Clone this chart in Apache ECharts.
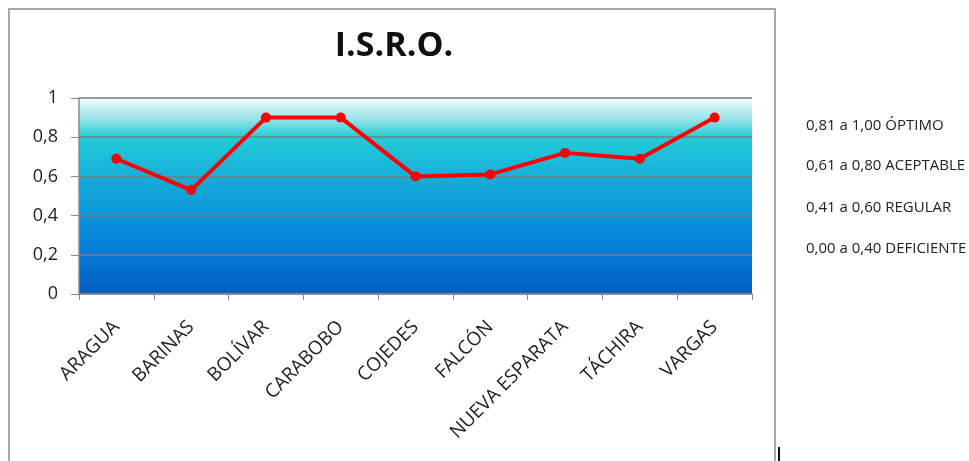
<!DOCTYPE html>
<html>
<head>
<meta charset="utf-8">
<script src="https://cdn.jsdelivr.net/npm/echarts@6/dist/echarts.min.js"></script>
<style>
  * { margin: 0; padding: 0; }
  body { background: #fff; }
</style>
</head>
<body>
<div id="main" style="width: 969px;height: 461px;"></div>
<script>
  var estados = ['ARAGUA', 'BARINAS', 'BOLÍVAR', 'CARABOBO', 'COJEDES', 'FALCÓN', 'NUEVA ESPARATA', 'TÁCHIRA', 'VARGAS'];
  var isro = [0.69, 0.53, 0.90, 0.90, 0.60, 0.61, 0.72, 0.69, 0.90];
  var rangos = ['0,81 a 1,00 ÓPTIMO', '0,61 a 0,80 ACEPTABLE', '0,41 a 0,60 REGULAR', '0,00 a 0,40 DEFICIENTE'];

  var myChart = echarts.init(document.getElementById('main'));

  // textos de rangos a la derecha
  var rangoTextos = rangos.map(function (t, i) {
    return {
      type: 'text',
      left: 806,
      top: [118, 158, 200, 241][i],
      style: { text: t, font: '15px "Open Sans", sans-serif', fill: '#222' }
    };
  });

  var option = {
    backgroundColor: '#fff',
    title: {
      text: 'I.S.R.O.',
      left: 389,
      top: 24,
      textAlign: 'center',
      textStyle: { fontSize: 34, fontWeight: 'bold', color: '#111', fontFamily: 'Open Sans' }
    },
    graphic: [
      {   // marco del grafico
        type: 'rect',
        shape: { x: 9, y: 9, width: 766, height: 470 },
        style: { fill: 'transparent', stroke: '#a8a8a8', lineWidth: 2 },
        z: -1
      },
      {   // cursor
        type: 'rect',
        shape: { x: 778, y: 447, width: 2, height: 14 },
        style: { fill: '#111' }
      }
    ].concat(rangoTextos),
    grid: {
      left: 79,
      top: 98,
      right: 217,
      bottom: 167,
      show: true,
      borderWidth: 0,
      backgroundColor: new echarts.graphic.LinearGradient(0, 0, 0, 1, [
        { offset: 0, color: '#f2fbfc' },
        { offset: 0.1, color: '#9fe3ea' },
        { offset: 0.2, color: '#22cdd8' },
        { offset: 0.45, color: '#13a8d8' },
        { offset: 0.7, color: '#0888dc' },
        { offset: 1, color: '#005cc0' }
      ])
    },
    xAxis: {
      type: 'category',
      data: estados,
      boundaryGap: true,
      axisLine: { lineStyle: { color: '#8a8a8a', width: 1.5 } },
      axisTick: { show: true, alignWithLabel: false, length: 6, lineStyle: { color: '#8a8a8a' } },
      axisLabel: {
        rotate: 45,
        interval: 0,
        margin: 30,
        color: '#222',
        fontSize: 19,
        fontFamily: 'Open Sans'
      }
    },
    yAxis: {
      type: 'value',
      min: 0,
      max: 1,
      interval: 0.2,
      axisLine: { show: true, lineStyle: { color: '#8a8a8a', width: 1.5 } },
      axisTick: { show: true, length: 8, lineStyle: { color: '#8a8a8a' } },
      splitLine: { lineStyle: { color: '#7c7c7c', width: 1.5 } },
      axisLabel: {
        margin: 21,
        color: '#222',
        fontSize: 18,
        fontFamily: 'Open Sans',
        formatter: function (v) { return String(v).replace('.', ','); }
      }
    },
    series: [
      {
        name: 'I.S.R.O.',
        type: 'line',
        data: isro,
        symbol: 'circle',
        symbolSize: 10,
        lineStyle: { color: '#ff0000', width: 4 },
        itemStyle: { color: '#ff0000' },
        animation: false
      }
    ]
  };

  myChart.setOption(option);
</script>
</body>
</html>
